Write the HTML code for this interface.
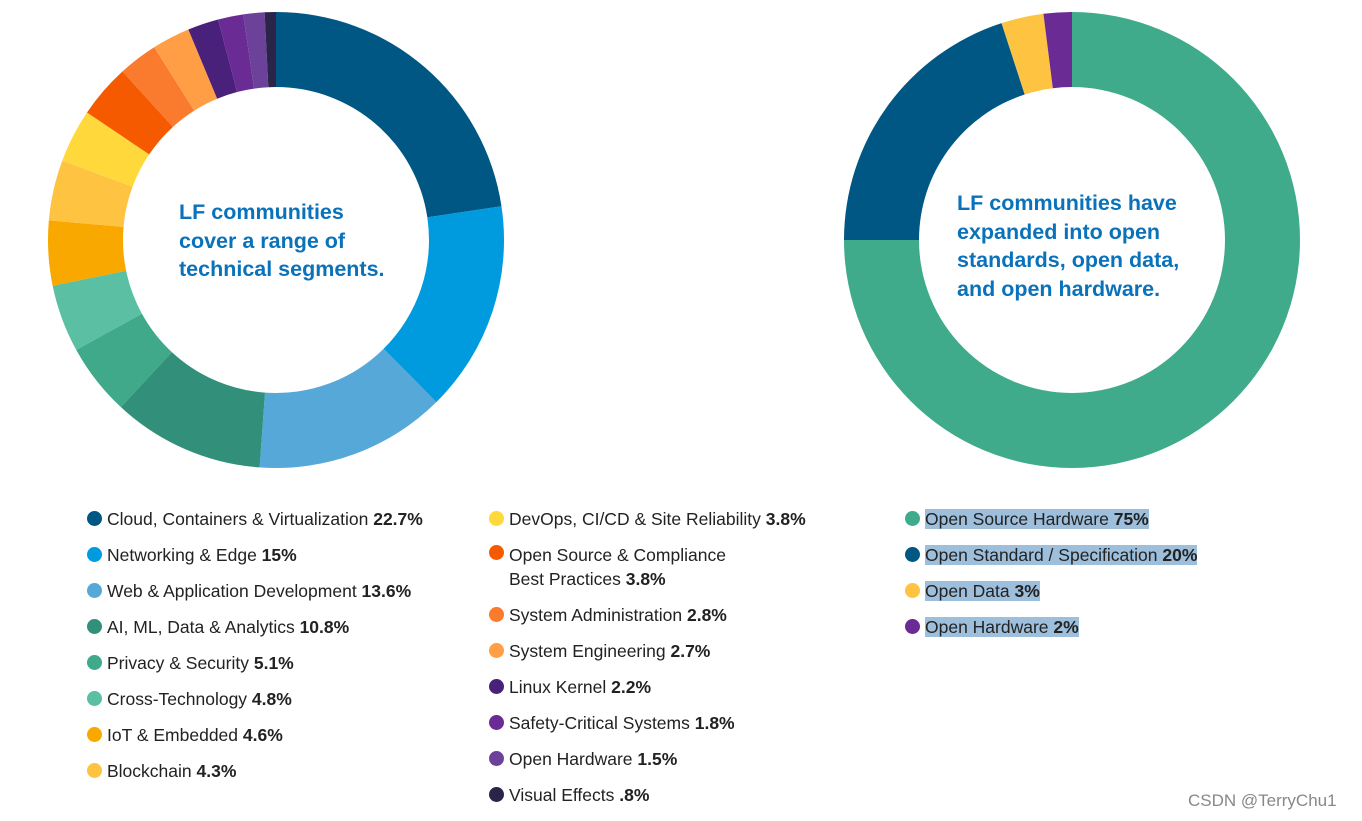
<!DOCTYPE html>
<html><head><meta charset="utf-8">
<style>
body{margin:0;width:1362px;height:821px;background:#fff;position:relative;overflow:hidden;font-family:"Liberation Sans",Arial,sans-serif;color:#222}
svg{position:absolute;left:0;top:0}
.li{position:absolute;font-size:17.5px;line-height:20px;white-space:nowrap}
.li .d{position:absolute;width:15px;height:15px;border-radius:50%;left:-20px;top:2px}
.li b{font-weight:bold}
.hl{background:#9dbfdc}
.ct{position:absolute;color:#0a72ba;font-weight:bold;font-size:21.5px;line-height:28.5px;letter-spacing:0px}
.wm{position:absolute;left:1188px;top:791px;font-size:17px;color:#888}
</style></head><body>
<svg id="chart" width="1362" height="821"></svg>
<div class="ct" style="left:179px;top:198px">LF communities<br>cover a range of<br>technical segments.</div>
<div class="ct" style="left:957px;top:189px">LF communities have<br>expanded into open<br>standards, open data,<br>and open hardware.</div>
<div id="legends"></div>
<div class="wm">CSDN @TerryChu1</div>
<script>
const leftLabels=["Cloud, Containers & Virtualization","Networking & Edge","Web & Application Development","AI, ML, Data & Analytics","Privacy & Security","Cross-Technology","IoT & Embedded","Blockchain","DevOps, CI/CD & Site Reliability","Open Source & Compliance|Best Practices","System Administration","System Engineering","Linux Kernel","Safety-Critical Systems","Open Hardware","Visual Effects"];
const leftValues=[22.7,15,13.6,10.8,5.1,4.8,4.6,4.3,3.8,3.8,2.8,2.7,2.2,1.8,1.5,0.8];
const leftValueText=["22.7%","15%","13.6%","10.8%","5.1%","4.8%","4.6%","4.3%","3.8%","3.8%","2.8%","2.7%","2.2%","1.8%","1.5%",".8%"];
const leftColors=["#005784","#009ade","#56a8d8","#328f7a","#3fa98a","#5abfa3","#f9a800","#ffc342","#ffd93b","#f65a00","#fa7a2e","#ff9e45","#4a217a","#6a2b95","#6b4199","#2a2448"];
const rightLabels=["Open Source Hardware","Open Standard / Specification","Open Data","Open Hardware"];
const rightValues=[75,20,3,2];
const rightValueText=["75%","20%","3%","2%"];
const rightColors=["#40ab8b","#005784","#ffc342","#6a2b95"];

const NS="http://www.w3.org/2000/svg";
const svg=document.getElementById('chart');
function arc(cx,cy,R,r,a0,a1){
  const p=(rad,a)=>[cx+rad*Math.sin(a),cy-rad*Math.cos(a)];
  const lg=(a1-a0)>Math.PI?1:0;
  const [x0,y0]=p(R,a0),[x1,y1]=p(R,a1),[x2,y2]=p(r,a1),[x3,y3]=p(r,a0);
  return `M${x0},${y0}A${R},${R} 0 ${lg} 1 ${x1},${y1}L${x2},${y2}A${r},${r} 0 ${lg} 0 ${x3},${y3}Z`;
}
function donut(cx,cy,vals,cols,labels,prefix){
  const tot=vals.reduce((a,b)=>a+b,0);let a=0;
  vals.forEach((v,i)=>{
    const a1=a+v/tot*2*Math.PI;
    const path=document.createElementNS(NS,'path');
    path.setAttribute('d',arc(cx,cy,228,153,a,a1));
    path.setAttribute('fill',cols[i]);
    
    
    svg.appendChild(path);a=a1;
  });
}
donut(276,240,leftValues,leftColors,leftLabels,'left');
donut(1072,240,rightValues,rightColors,rightLabels,'right');

const L=document.getElementById('legends');
function item(x,y,label,val,col,hl){
  const d=document.createElement('div');
  d.className='li';d.style.left=x+'px';d.style.top=(y-10)+'px';
  
  
  const parts=label.split('|');
  let html='<span class="d" style="background:'+col+'"></span>';
  if(parts.length>1){html+=parts[0]+'<br>'+parts[1]+' <b>'+val+'</b>';d.style.lineHeight='24px';d.style.top=(y-12)+'px';}
  else if(hl){html+='<span class="hl">'+label+' <b>'+val+'</b></span>';}
  else html+=label+' <b>'+val+'</b>';
  d.innerHTML=html;L.appendChild(d);
}
let y=519;
leftLabels.forEach((lab,i)=>{
  if(i<8){item(107,519+i*36,lab,leftValueText[i],leftColors[i]);}
  else{item(509,y,lab,leftValueText[i],leftColors[i]);y+=lab.includes('|')?60:36;}
});
rightLabels.forEach((lab,i)=>item(925,519+i*36,lab,rightValueText[i],rightColors[i],true));
</script>
</body></html>
